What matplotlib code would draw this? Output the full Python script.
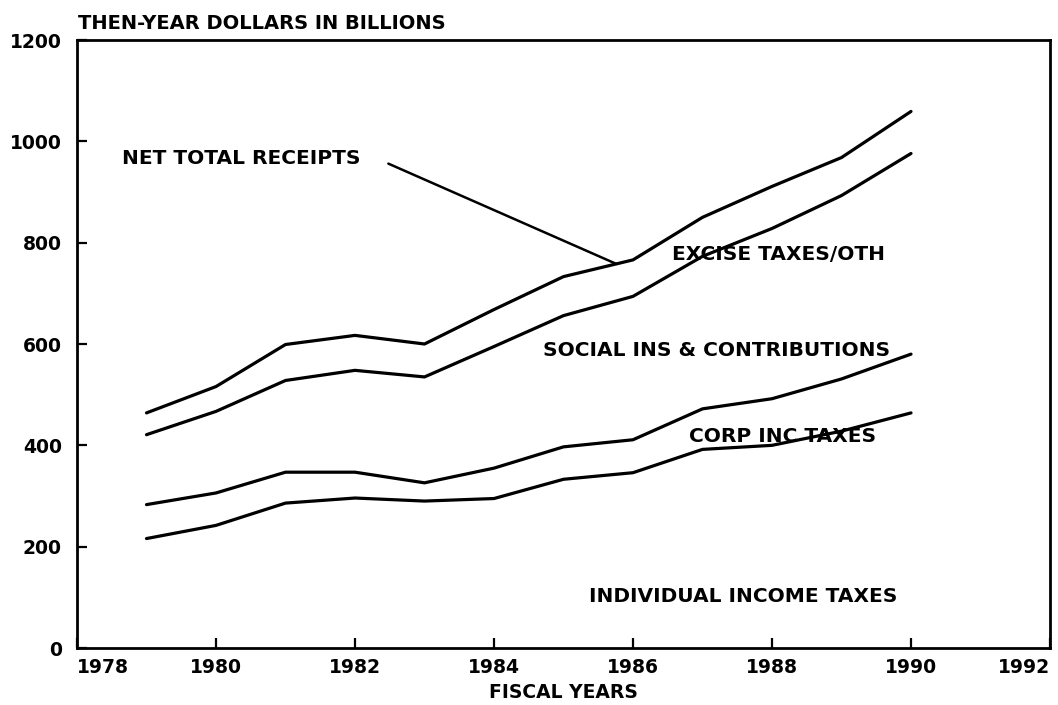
import numpy as np
import matplotlib
matplotlib.use("Agg")
import matplotlib.pyplot as plt

# ---- data (billions of then-year dollars) ----
years = [1979, 1980, 1981, 1982, 1983, 1984, 1985, 1986, 1987, 1988, 1989, 1990]
individual = [216, 242, 286, 296, 290, 295, 333, 346, 392, 400, 428, 464]
corporate = [67, 64, 61, 51, 36, 60, 64, 65, 80, 92, 103, 116]
social = [138, 161, 181, 201, 209, 240, 259, 283, 301, 336, 362, 396]
excise_other = [43, 49, 71, 69, 65, 73, 77, 72, 77, 83, 75, 83]

x_ticks = [1978, 1980, 1982, 1984, 1986, 1988, 1990, 1992]
y_ticks = [0, 200, 400, 600, 800, 1000, 1200]

title = "THEN-YEAR DOLLARS IN BILLIONS"
xlabel = "FISCAL YEARS"

FONT = "DejaVu Sans"
plt.rcParams['font.family'] = [FONT]
plt.rcParams['font.weight'] = 'bold'

fig = plt.figure(figsize=(10.58, 7.05), dpi=100)
ax = fig.add_axes([77/1058, 1 - 648/705, (1050 - 77)/1058, (648 - 40)/705])

stack = np.cumsum(np.array([individual, corporate, social, excise_other]), axis=0)
for row in stack:
    ax.plot(years, row, color='black', lw=2.3, solid_capstyle='round', solid_joinstyle='round')

ax.set_xlim(1978, 1992)
ax.set_ylim(0, 1200)
ax.set_xticks(x_ticks)
ax.set_yticks(y_ticks)
ax.set_xticklabels([str(t) for t in x_ticks])
ax.set_yticklabels([str(t) for t in y_ticks])
ax.tick_params(axis='both', direction='in', length=7, width=1.6, labelsize=13.5)
ax.tick_params(axis='y', pad=11)
ax.tick_params(axis='x', pad=7)
labels = ax.get_xticklabels()
labels[0].set_horizontalalignment('left')
labels[-1].set_horizontalalignment('right')
for lab in ax.get_xticklabels() + ax.get_yticklabels():
    lab.set_fontweight('bold')
for sp in ax.spines.values():
    sp.set_linewidth(2.0)

fs = 14.5
ax.text(1978.65, 956, "NET TOTAL RECEIPTS", fontsize=fs, fontweight='bold', va='baseline', ha='left')
ax.text(1986.56, 765, "EXCISE TAXES/OTH", fontsize=fs, fontweight='bold', va='baseline', ha='left')
ax.text(1984.71, 577, "SOCIAL INS & CONTRIBUTIONS", fontsize=fs, fontweight='bold', va='baseline', ha='left')
ax.text(1986.8, 406, "CORP INC TAXES", fontsize=fs, fontweight='bold', va='baseline', ha='left')
ax.text(1985.36, 91, "INDIVIDUAL INCOME TAXES", fontsize=fs, fontweight='bold', va='baseline', ha='left')

# leader line from the NET TOTAL RECEIPTS label to the total line
xe = 1985.76
ye = float(np.interp(xe, years, stack[-1]))
ax.annotate('', xy=(xe, ye), xytext=(1982.48, 956),
            arrowprops=dict(arrowstyle='-', color='black', lw=1.8, shrinkA=0, shrinkB=0))

fig.text(78/1058, 1 - 29/705, title, fontsize=14, fontweight='bold', va='baseline', ha='left')
fig.text((77 + 1050)/2/1058, 1 - 683/705, xlabel, fontsize=13.5, fontweight='bold', va='top', ha='center')

fig.savefig("out.png", dpi=100)
